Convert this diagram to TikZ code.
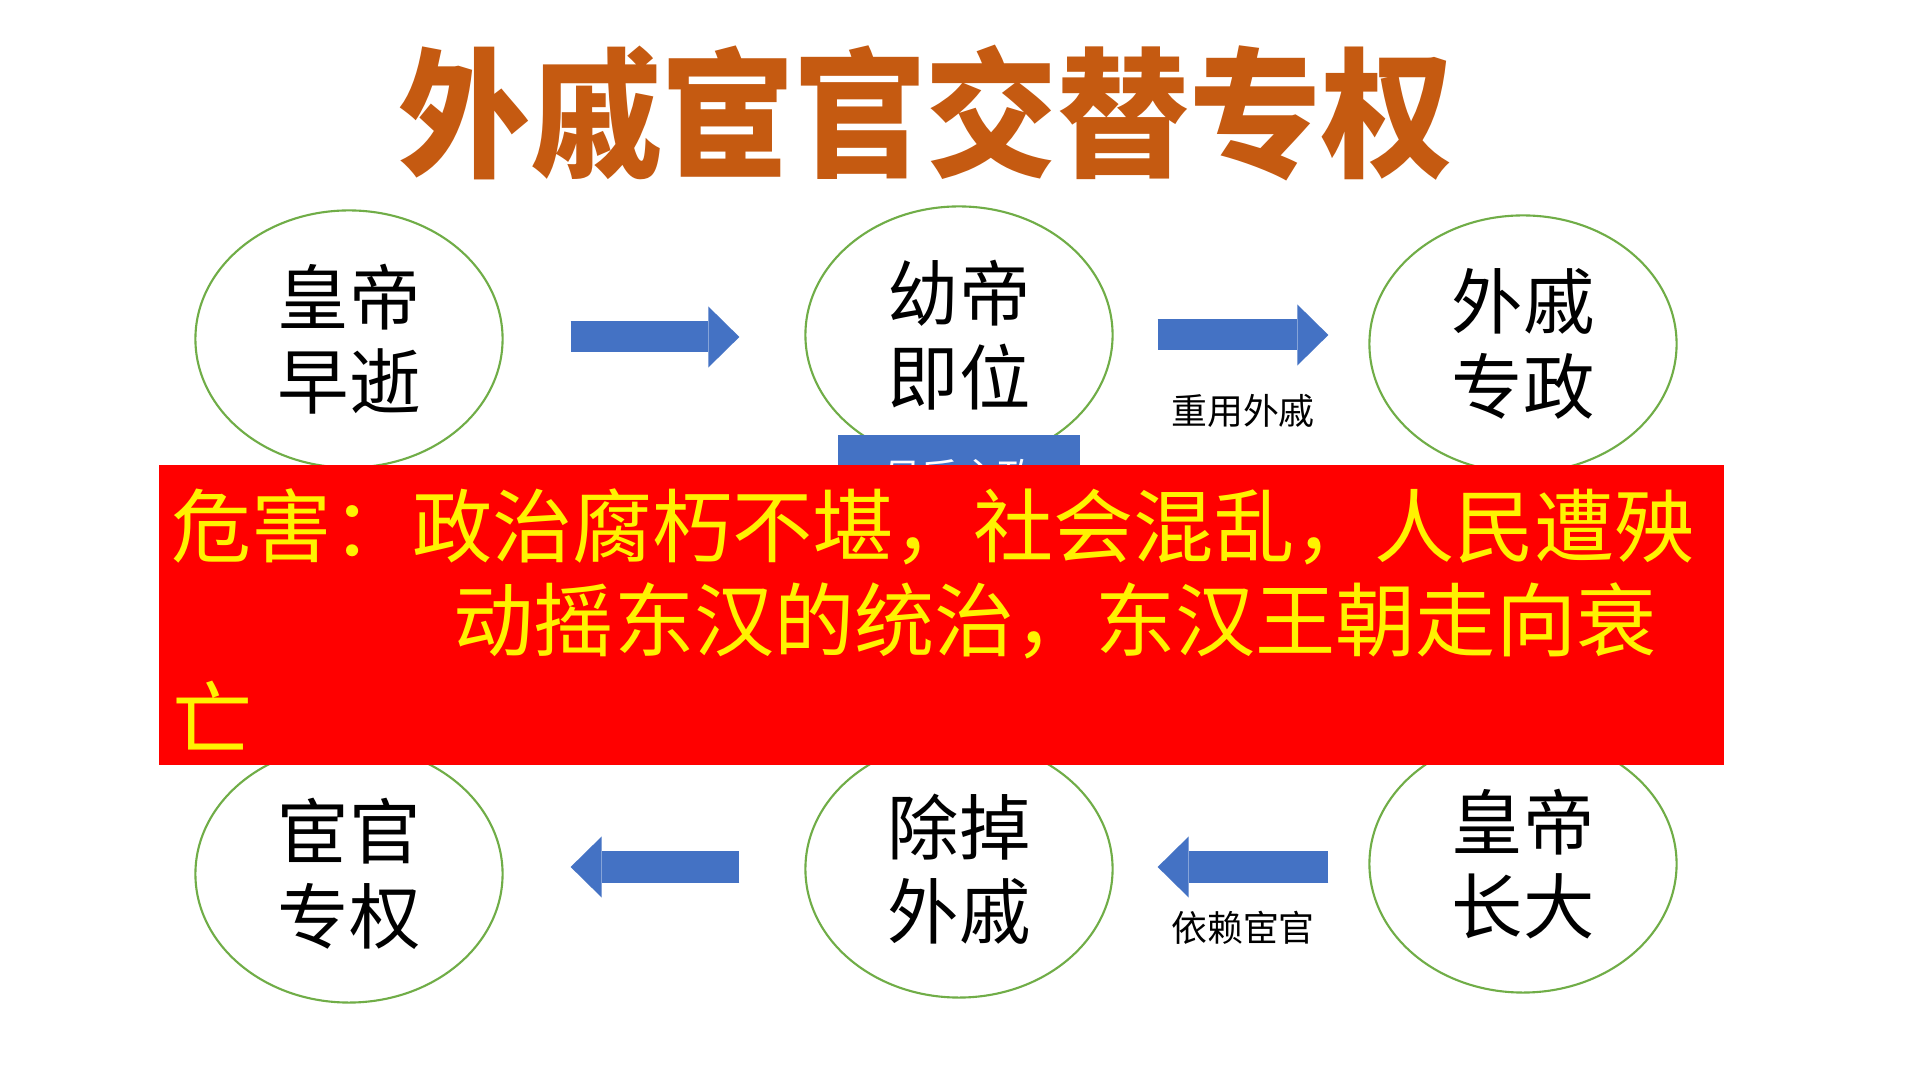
\documentclass[tikz,border=0pt]{standalone}
\usepackage{fontspec}
\setmainfont{Noto Sans CJK SC}
\usetikzlibrary{arrows.meta,positioning,calc,shapes.geometric}
\definecolor{titlec}{HTML}{C55A11}
\definecolor{ablue}{HTML}{4472C4}
\definecolor{ring}{HTML}{70AD47}

\begin{document}
\begin{tikzpicture}[x=0.01cm,y=-0.01cm,
  circ/.style={ellipse,draw=ring,line width=0.6pt,fill=white,minimum width=3.07cm,minimum height=2.57cm,align=center,inner sep=0pt,font=\fontsize{20.3}{24}\selectfont},
  ar/.style={draw=ablue,line width=0.31cm,-{Triangle[length=0.31cm,width=0.61cm,line width=0pt]}},
  lbl/.style={inner sep=0pt,font=\fontsize{10.2}{12}\selectfont},
  mhbox/.style={fill=ablue,text=white,minimum width=2.42cm,minimum height=0.84cm,inner sep=0pt,font=\fontsize{10.9}{13}\selectfont},
  warn/.style={fill=red,minimum width=15.65cm,minimum height=3cm,inner sep=0pt},
  hl/.style={anchor=west,text=yellow,inner sep=0pt,font=\fontsize{22.8}{26}\selectfont}
]
\useasboundingbox (0,0) rectangle (1920,1080);
\fill[white] (0,0) rectangle (1920,1080);
\node[text=titlec,font=\fontsize{37.5}{40}\selectfont\bfseries,yscale=1.06] (ttl) at (926,113) {外戚宦官交替专权};
\node[circ] (die) at (349,339) {皇帝\\早逝};
\node[circ] (young) at (959,335) {幼帝\\即位};
\node[circ] (wq) at (1523,344) {外戚\\专政};
\node[circ] (hg) at (349,874) {宦官\\专权};
\node[circ] (rid) at (959,869) {除掉\\外戚};
\node[circ] (grow) at (1523,864) {皇帝\\长大};
\draw[ar] ($(die.east)+(67,-2)$) -- ($(die.east -| young.west)+(-65,-2)$);
\draw[ar] ($(young.east)+(44,0)$) -- node[lbl,below=4.4mm] {重用外戚} ($(young.east -| wq.west)+(-40,0)$);
\draw[ar] ($(rid.west)+(-65,-2)$) -- ($(rid.west -| hg.east)+(67,-2)$);
\draw[ar] ($(rid.east -| grow.west)+(-40,-2)$) -- node[lbl,below=2.9mm] {依赖宦官} ($(rid.east)+(44,-2)$);
\node[mhbox] (mh) at (959,477) {母后主政};
\node[warn] (harm) at (941.5,615) {};
\node[hl] (l1) at (171,527) {危害：政治腐朽不堪，社会混乱，人民遭殃};
\node[hl] (l2) at (453,621) {动摇东汉的统治，东汉王朝走向衰};
\node[hl] (l3) at (172,716) {亡};
\end{tikzpicture}
\end{document}
